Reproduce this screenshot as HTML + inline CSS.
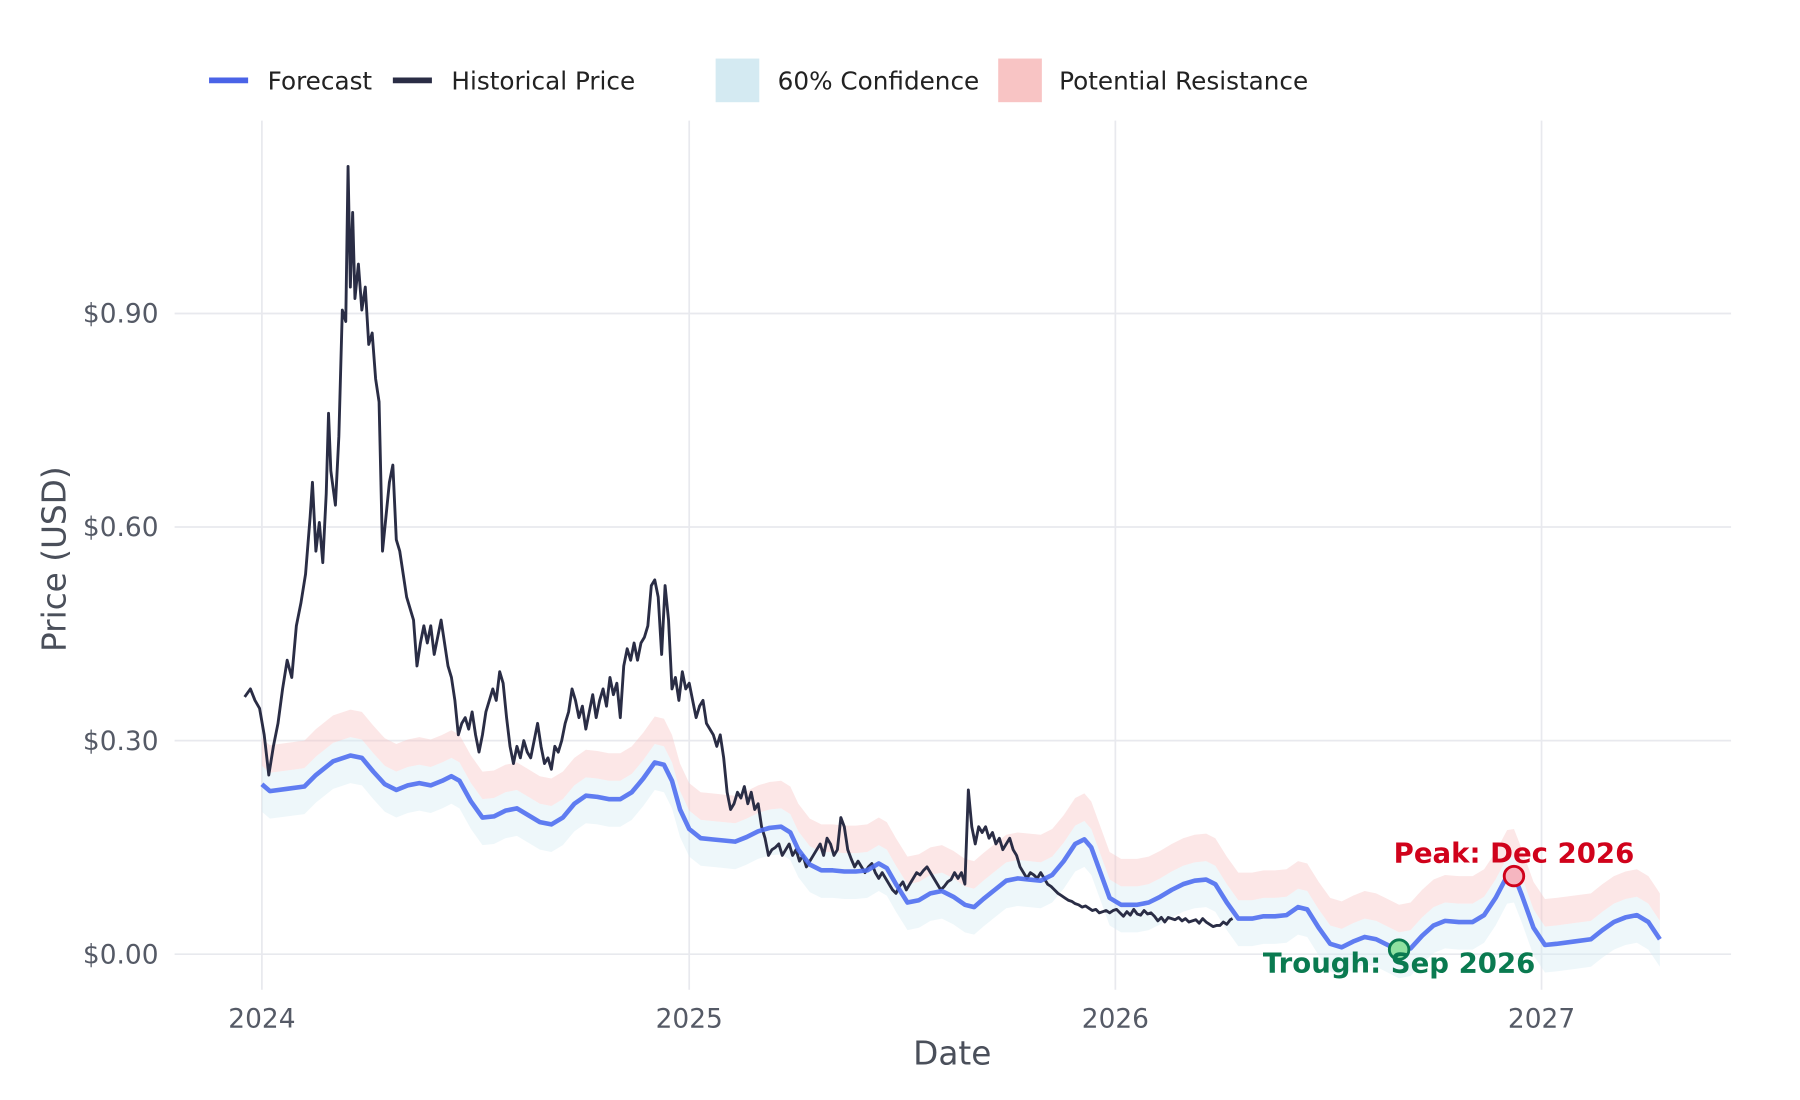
<!DOCTYPE html>
<html><head><meta charset="utf-8"><style>
html,body{margin:0;padding:0;background:#fff;}
svg{display:block;font-family:"DejaVu Sans","Liberation Sans",sans-serif;}
</style></head><body>
<svg id="s" width="1800" height="1100" viewBox="0 0 1567 958" preserveAspectRatio="none" xmlns="http://www.w3.org/2000/svg">
<rect width="1567" height="958" fill="#fff"/>
<g stroke="#e8e9ee" stroke-width="1.5">
<line x1="152" x2="1507" y1="273" y2="273"/><line x1="152" x2="1507" y1="459" y2="459"/>
<line x1="152" x2="1507" y1="645" y2="645"/><line x1="152" x2="1507" y1="831" y2="831"/>
<line x1="228" x2="228" y1="105" y2="862"/><line x1="600" x2="600" y1="105" y2="862"/>
<line x1="971" x2="971" y1="105" y2="862"/><line x1="1342" x2="1342" y1="105" y2="862"/>
</g>
<g fill="#555a66" font-size="23" text-anchor="end">
<text x="138" y="281">$0.90</text><text x="138" y="467">$0.60</text><text x="138" y="653">$0.30</text><text x="138" y="839">$0.00</text>
</g>
<g fill="#555a66" font-size="23" text-anchor="middle">
<text x="228" y="895">2024</text><text x="600" y="895">2025</text><text x="971" y="895">2026</text><text x="1342" y="895">2027</text>
</g>
<text x="829" y="927" font-size="28.5" fill="#4a4f5a" text-anchor="middle">Date</text>
<text transform="translate(57,487) rotate(-90)" font-size="28.5" fill="#4a4f5a" text-anchor="middle">Price (USD)</text>
<path id="res" fill="#f8c4c4" opacity="0.4"/>
<path id="conf" fill="#d4eaf2" opacity="0.4"/>
<polyline id="hist" fill="none" stroke="#2a2d45" stroke-width="2.5" stroke-linejoin="round"/>
<polyline id="fc" fill="none" stroke="#4f6ef0" stroke-width="4" stroke-linejoin="round" opacity="0.9"/>
<circle cx="1318" cy="763" r="8.5" fill="#f6b6c0" stroke="#d0021b" stroke-width="2.5"/>
<circle cx="1218" cy="827" r="8.5" fill="#8fe0a0" stroke="#0a7a50" stroke-width="2.5"/>
<text x="1318" y="751" font-size="24" font-weight="bold" fill="#d0021b" text-anchor="middle">Peak: Dec 2026</text>
<text x="1218" y="847" font-size="24" font-weight="bold" fill="#0a7a50" text-anchor="middle">Trough: Sep 2026</text>
<g font-size="21.5" fill="#222">
<line x1="182" x2="216" y1="70" y2="70" stroke="#4a63e7" stroke-width="5"/><text x="233" y="78">Forecast</text>
<line x1="342" x2="376" y1="70" y2="70" stroke="#2a2d45" stroke-width="5"/><text x="393" y="78">Historical Price</text>
<rect x="623" y="51" width="38" height="38" fill="#d4eaf2"/><text x="677" y="78">60% Confidence</text>
<rect x="869" y="51" width="38" height="38" fill="#f8c4c4"/><text x="922" y="78">Potential Resistance</text>
</g>
</svg>
<script>
var H=[213,607,218,600,222,610,226,617,230,640,234,675,238,650,242,630,246,600,250,575,254,590,258,545,262,525,266,500,270,450,272,420,275,480,278,455,281,490,284,430,286,360,288,410,292,440,295,380,298,270,301,280,303,145,305,250,307,185,309,260,312,230,315,270,318,250,321,300,324,290,327,330,330,350,333,480,336,450,339,420,342,405,345,470,348,480,351,500,354,520,357,530,360,540,363,580,366,560,369,545,372,560,375,545,378,570,381,555,384,540,387,560,390,580,393,590,396,610,399,640,402,630,405,625,408,635,411,620,414,640,417,655,420,640,423,620,426,610,429,600,432,610,435,585,438,595,441,625,444,650,447,665,450,650,453,660,456,645,459,655,462,660,465,645,468,630,471,650,474,665,477,660,480,670,483,650,486,655,489,645,492,630,495,620,498,600,501,610,504,625,507,615,510,635,513,620,516,605,519,625,522,610,525,600,528,615,531,590,534,605,537,595,540,625,543,580,546,565,549,575,552,560,555,575,558,560,561,555,564,545,567,510,570,505,573,520,576,570,579,510,582,540,585,600,588,590,591,610,594,585,597,600,600,595,603,610,606,625,609,615,612,610,615,630,618,635,621,640,624,650,627,640,630,660,633,690,636,705,639,700,642,690,645,695,648,685,651,700,654,690,657,705,660,700,663,720,666,730,669,745,672,740,675,738,678,735,681,745,684,740,687,735,690,745,693,740,696,750,699,745,702,755,705,750,708,745,711,740,714,735,717,745,720,730,723,735,726,745,729,740,732,712,735,720,738,740,741,748,744,755,747,750,750,755,753,760,756,755,759,752,762,760,765,765,768,760,771,765,774,770,777,775,780,778,783,772,786,768,789,775,792,770,795,765,798,760,801,762,804,758,807,755,810,760,813,765,816,770,819,775,822,772,825,768,828,766,831,760,834,765,837,760,840,770,843,688,846,720,849,735,852,720,855,725,858,720,861,730,864,725,867,735,870,730,873,740,876,735,879,730,882,740,885,745,888,755,891,760,894,765,897,760,900,762,903,765,906,760,909,765,912,770,915,772,918,775,921,778,924,780,927,782,930,784,933,785,936,787,939,788,942,790,945,789,948,791,951,793,954,792,957,795,960,794,963,793,966,795,969,793,972,792,975,795,978,798,981,794,984,797,987,792,990,796,993,797,996,793,999,796,1002,795,1005,798,1008,802,1011,799,1014,803,1017,799,1020,800,1023,801,1026,799,1029,802,1032,800,1035,803,1038,802,1041,801,1044,804,1047,800,1050,803,1053,805,1056,807,1059,806,1062,806,1065,803,1068,805,1071,801,1073,800];
var F=[228,683,235,689,250,687,265,685,275,675,290,663,305,658,315,660,325,672,335,683,345,688,355,684,365,682,375,684,385,680,393,676,400,680,410,698,420,712,430,711,440,706,450,704,460,710,470,716,480,718,490,712,500,700,510,693,520,694,530,696,540,696,550,690,560,678,570,664,578,666,585,680,592,705,600,722,610,730,620,731,630,732,640,733,650,729,660,724,670,721,680,720,688,725,695,740,705,753,715,758,725,758,735,759,745,759,755,758,765,752,772,756,780,770,790,786,800,784,810,778,820,776,830,781,840,788,848,790,856,783,866,775,876,767,886,765,896,766,906,767,916,762,926,750,936,735,944,731,950,738,958,760,966,782,976,788,990,788,1000,786,1010,781,1020,775,1030,770,1040,767,1050,766,1058,770,1068,786,1078,800,1090,800,1100,798,1110,798,1120,797,1130,790,1138,792,1148,808,1158,822,1168,825,1178,820,1188,816,1198,818,1208,823,1218,828,1228,826,1238,815,1248,806,1258,802,1270,803,1282,803,1292,797,1302,782,1312,763,1318,762,1325,780,1335,808,1345,823,1355,822,1370,820,1385,818,1395,810,1405,803,1415,799,1425,797,1435,803,1445,818];
function pts(a,d){var s=[];for(var i=0;i<a.length;i+=2)s.push(a[i]+","+(a[i+1]+d));return s;}
function band(a,d1,d2){var t=pts(a,d1),b=[];for(var i=a.length-2;i>=0;i-=2)b.push(a[i]+","+(a[i+1]+d2));return "M"+t.join("L")+"L"+b.join("L")+"Z";}
document.getElementById("hist").setAttribute("points",pts(H,0).join(" "));
document.getElementById("fc").setAttribute("points",pts(F,0).join(" "));
document.getElementById("conf").setAttribute("d",band(F,-16,24));
document.getElementById("res").setAttribute("d",band(F,-40,-16));
</script>
</body></html>
